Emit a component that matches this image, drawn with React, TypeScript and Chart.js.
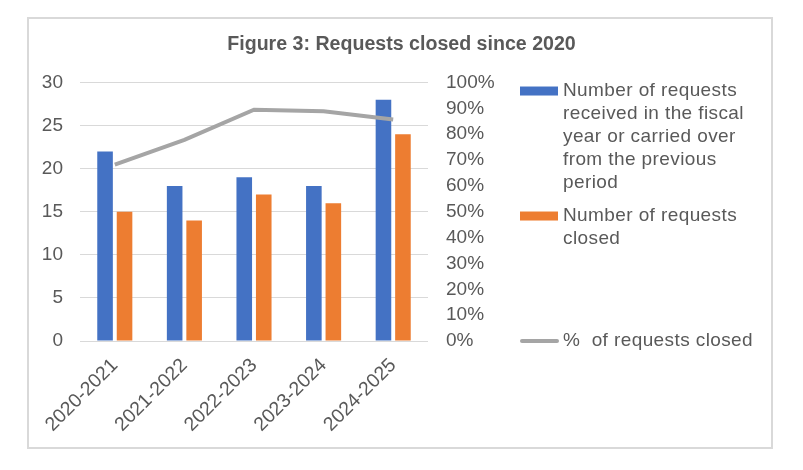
import React, { useEffect, useRef } from "react";
import { Chart, registerables } from "chart.js";

Chart.register(...registerables);

const categories = ["2020-2021", "2021-2022", "2022-2023", "2023-2024", "2024-2025"];
const requestsReceived = [22, 18, 19, 18, 28];
const requestsClosed = [15, 14, 17, 16, 24];
const percentClosed = [68.2, 77.8, 89.5, 88.9, 85.7];
const titleText = "Figure 3: Requests closed since 2020";
const legendReceived = ["Number of requests", "received in the fiscal", "year or carried over", "from the previous", "period"];
const legendClosed = ["Number of requests", "closed"];
const legendPercent = ["%  of requests closed"];

const BLUE = "#4472C4";
const ORANGE = "#ED7D31";
const GRAY = "#A5A5A5";
const TEXT = "#595959";
const GRID = "#D9D9D9";
const FONT = "'Liberation Sans', Arial, sans-serif";

const framePlugin = {
  id: "frame",
  beforeDraw(chart: any) {
    const ctx = chart.ctx;
    ctx.save();
    ctx.fillStyle = "#FFFFFF";
    ctx.fillRect(0, 0, chart.width, chart.height);
    ctx.strokeStyle = GRID;
    ctx.lineWidth = 2;
    ctx.strokeRect(28, 18, 744, 430);
    ctx.restore();
  },
};

const legendPlugin = {
  id: "customLegend",
  afterDraw(chart: any) {
    const ctx = chart.ctx;
    const area = chart.chartArea;
    const y2 = chart.scales.y2;
    const x0 = area.right + 92;
    const tx = x0 + 43;
    const lh = 23;
    ctx.save();
    ctx.font = `19px ${FONT}`;
    (ctx as any).letterSpacing = "0.4px";
    ctx.fillStyle = TEXT;
    ctx.textBaseline = "middle";
    ctx.textAlign = "left";
    const drawItem = (lines: string[], yTop: number, kind: string, color: string) => {
      if (kind === "box") {
        ctx.fillStyle = color;
        ctx.fillRect(x0, yTop - 4, 38, 9);
      } else {
        ctx.strokeStyle = color;
        ctx.lineWidth = 4;
        ctx.lineCap = "round";
        ctx.beginPath();
        ctx.moveTo(x0 + 2, yTop);
        ctx.lineTo(x0 + 37, yTop);
        ctx.stroke();
      }
      ctx.fillStyle = TEXT;
      lines.forEach((l, i) => ctx.fillText(l, tx, yTop + i * lh));
    };
    drawItem(legendReceived, area.top + 8, "box", BLUE);
    drawItem(legendClosed, area.top + 133, "box", ORANGE);
    drawItem(legendPercent, y2.getPixelForValue(0), "line", GRAY);
    ctx.restore();
  },
};

export default function App() {
  const ref = useRef<HTMLCanvasElement | null>(null);
  useEffect(() => {
    if (!ref.current) return;
    const chart = new Chart(ref.current, {
      type: "bar",
      data: {
        labels: categories,
        datasets: [
          {
            type: "line",
            label: "%  of requests closed",
            data: percentClosed,
            yAxisID: "y2",
            borderColor: GRAY,
            borderWidth: 4,
            pointRadius: 0,
            tension: 0,
            order: 0,
          } as any,
          {
            label: "Number of requests received in the fiscal year or carried over from the previous period",
            data: requestsReceived,
            backgroundColor: BLUE,
            yAxisID: "y",
            categoryPercentage: 0.56,
            barPercentage: 0.8,
            order: 1,
          },
          {
            label: "Number of requests closed",
            data: requestsClosed,
            backgroundColor: ORANGE,
            yAxisID: "y",
            categoryPercentage: 0.56,
            barPercentage: 0.8,
            order: 1,
          },
        ],
      },
      options: {
        responsive: false,
        animation: false,
        layout: { padding: { left: 0, right: 0, top: 0, bottom: 0 } },
        plugins: {
          legend: { display: false },
          tooltip: { enabled: false },
          title: {
            display: true,
            text: titleText,
            color: TEXT,
            font: { family: FONT, size: 19.6, weight: "bold" },
            padding: { top: 33, bottom: 26 },
          },
        },
        scales: {
          x: {
            grid: { display: false, drawTicks: false },
            border: { display: false },
            ticks: {
              color: TEXT,
              font: { family: FONT, size: 19.5 },
              maxRotation: 45,
              minRotation: 45,
              padding: 13,
            },
            afterFit: (s: any) => {
              s.height = 129;
            },
          },
          y: {
            position: "left",
            min: 0,
            max: 30,
            ticks: { stepSize: 5, color: TEXT, font: { family: FONT, size: 19 }, padding: 17 },
            grid: { color: GRID, lineWidth: 1, drawTicks: false },
            border: { display: false },
            afterFit: (s: any) => {
              s.width = 80;
            },
          },
          y2: {
            position: "right",
            min: 0,
            max: 100,
            ticks: {
              stepSize: 10,
              color: TEXT,
              font: { family: FONT, size: 19 },
              padding: 18,
              callback: (v: any) => `${v}%`,
            },
            grid: { display: false, drawTicks: false },
            border: { display: false },
            afterFit: (s: any) => {
              s.width = 375;
            },
          },
        },
      },
      plugins: [framePlugin, legendPlugin],
    });
    return () => chart.destroy();
  }, []);
  return (
    <div style={{ position: "absolute", left: 0, top: 0, width: 803, height: 470 }}>
      <canvas ref={ref} width={803} height={470} />
    </div>
  );
}
